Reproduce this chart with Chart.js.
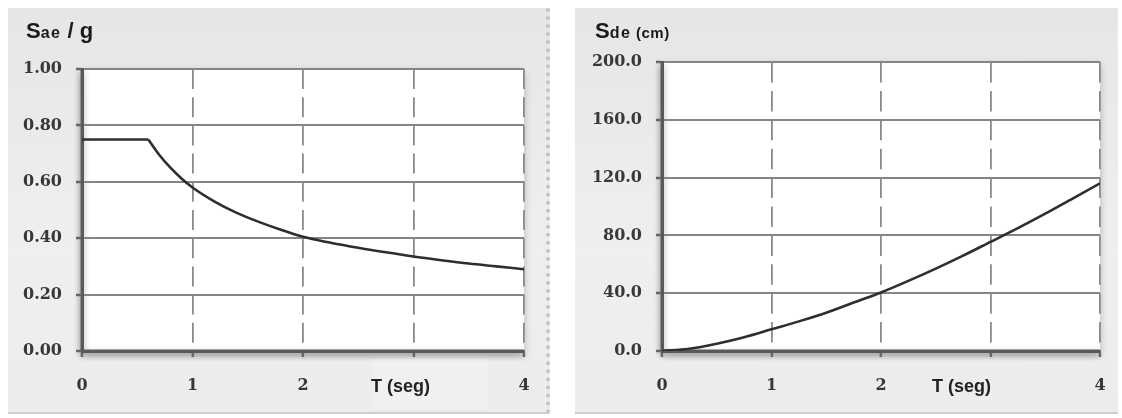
<!DOCTYPE html>
<html>
<head>
<meta charset="utf-8">
<script src="https://cdn.jsdelivr.net/npm/chart.js@4.4.1/dist/chart.umd.min.js"></script>
<style>
  html,body{margin:0;padding:0;background:#fff;width:1122px;height:418px;overflow:hidden;}
  .panel{position:absolute;top:8px;height:404px;background:linear-gradient(#e6e6e6,#efefef 60%,#ececec);}
  #p1{left:8px;width:538px;border-right:4px dotted #c4c4c4;border-bottom:2px solid #cfcfcf;}
  #p2{left:575px;width:543px;border-bottom:2px solid #cfcfcf;}
  canvas{position:absolute;left:0;top:0;}
  .title{position:absolute;font-family:"Liberation Sans",Arial,sans-serif;font-weight:bold;color:#1a1a1a;white-space:nowrap;line-height:1;}
  .big{font-size:22px;}
  .sub{font-size:16px;letter-spacing:1.5px;}
  .slash{font-size:22px;}
</style>
</head>
<body>
<div class="panel" id="p1"><canvas id="c1" width="538" height="404"></canvas>
  <div class="title" style="left:18px;top:12px;"><span class="big">S</span><span class="sub">ae</span><span class="slash"> / g</span></div>
</div>
<div class="panel" id="p2"><canvas id="c2" width="543" height="404"></canvas>
  <div class="title" style="left:20px;top:12px;"><span class="big">S</span><span class="sub">de</span><span class="sub" style="font-size:15px;letter-spacing:0.5px"> (cm)</span></div>
</div>
<script>
// ---- data ----
const periodsA = [0, 0.6, 0.7, 0.8, 0.9, 1.0, 1.2, 1.4, 1.6, 1.8, 2.0, 2.25, 2.5, 2.75, 3.0, 3.25, 3.5, 3.75, 4.0];
const saeValues = [0.75, 0.75, 0.695, 0.65, 0.612, 0.58, 0.53, 0.49, 0.458, 0.43, 0.405, 0.384, 0.366, 0.35, 0.335, 0.322, 0.31, 0.30, 0.29];
const plateauEndIndex = 1; // spectrum plateau ends at T = 0.6 s
const periodsB = [0, 0.25, 0.5, 0.75, 1.0, 1.25, 1.5, 1.75, 2.0, 2.25, 2.5, 2.75, 3.0, 3.25, 3.5, 3.75, 4.0];
const sdeValues = [0, 1.5, 5, 9.5, 15, 20.5, 26.5, 33.5, 40.5, 48.5, 57, 66, 75.5, 85, 95, 105.5, 116];
const xTickValues = [0, 1, 2, 3, 4];
const xAxisTitle = "T (seg)";
const yTicksA = [0, 0.2, 0.4, 0.6, 0.8, 1.0];
const yTicksB = [0, 40, 80, 120, 160, 200];

const tickFont = {family: "'DejaVu Serif', serif", weight: 'bold', size: 16};

const framePlugin = {
  id: 'frame',
  beforeDraw(chart) {
    const {ctx, chartArea: a} = chart;
    ctx.save();
    ctx.shadowColor = 'rgba(0,0,0,0.25)';
    ctx.shadowBlur = 8;
    ctx.shadowOffsetX = 0;
    ctx.shadowOffsetY = 3;
    ctx.fillStyle = '#ffffff';
    ctx.fillRect(a.left, a.top, a.right - a.left, a.bottom - a.top);
    ctx.shadowColor = 'rgba(0,0,0,0.4)';
    ctx.shadowBlur = 6;
    ctx.strokeStyle = '#666';
    ctx.lineWidth = 3;
    ctx.beginPath();
    ctx.moveTo(a.left, a.top);
    ctx.lineTo(a.left, a.bottom);
    ctx.lineTo(a.right, a.bottom);
    ctx.stroke();
    ctx.restore();
  },
  afterDraw(chart, args, opts) {
    const {ctx} = chart;
    const xs = chart.scales.x;
    const cx = xs.getPixelForValue(3) + opts.shift;
    const cy = xs.top + 36;
    ctx.save();
    if (opts.box) {
      ctx.fillStyle = 'rgba(255,255,255,0.22)';
      ctx.fillRect(cx - 28, xs.top + 8, 115, 50);
    }
    ctx.font = "bold 18px 'Liberation Sans', Arial, sans-serif";
    ctx.fillStyle = '#222';
    ctx.textAlign = 'center';
    ctx.textBaseline = 'middle';
    ctx.fillText(xAxisTitle, cx, cy);
    ctx.restore();
  }
};

function lineDataset(points) {
  return {
    data: points,
    borderColor: '#2e2e2e',
    borderWidth: 2.6,
    pointRadius: 0,
    cubicInterpolationMode: 'monotone',
    fill: false
  };
}

function makeChart(id, segments, yTicks, decimals, yWidth, pad, dash, shift, box) {
  const ymax = yTicks[yTicks.length - 1];
  return new Chart(document.getElementById(id), {
    type: 'line',
    data: {datasets: segments.map(lineDataset)},
    options: {
      responsive: false,
      animation: false,
      devicePixelRatio: 1,
      layout: {padding: {left: pad.left, top: pad.top, right: pad.right, bottom: 0}},
      plugins: {legend: {display: false}, tooltip: {enabled: false}, frame: {shift: shift, box: box}},
      scales: {
        x: {
          type: 'linear', min: 0, max: 4,
          afterBuildTicks: s => { s.ticks = xTickValues.map(v => ({value: v})); },
          afterFit: s => { s.height = 61; s.paddingLeft = 0; s.paddingRight = 0; },
          ticks: {
            font: tickFont, color: '#383838', padding: 19, maxRotation: 0,
            callback: v => (v === 3 ? '' : String(v))
          },
          grid: {color: '#8a8a8a', lineWidth: 1.8, tickLength: 6, tickColor: '#666', tickWidth: 2.5},
          border: {color: '#5a5a5a', width: 3, dash: dash}
        },
        y: {
          min: 0, max: ymax,
          afterBuildTicks: s => { s.ticks = yTicks.map(v => ({value: v})); },
          afterFit: s => { s.width = yWidth; },
          ticks: {
            font: tickFont, color: '#383838', padding: 14,
            callback: v => Number(v).toFixed(decimals)
          },
          grid: {color: '#858585', lineWidth: 2, tickLength: 6, tickColor: '#666', tickWidth: 2.5},
          border: {color: '#5a5a5a', width: 3}
        }
      }
    },
    plugins: [framePlugin]
  });
}

const pointsA = periodsA.map((x, i) => ({x: x, y: saeValues[i]}));
const pointsB = periodsB.map((x, i) => ({x: x, y: sdeValues[i]}));

makeChart('c1', [pointsA.slice(0, plateauEndIndex + 1), pointsA.slice(plateauEndIndex)],
  yTicksA, 2, 74, {left: 0, top: 61, right: 22}, [20, 8.2], -13, true);
makeChart('c2', [pointsB], yTicksB, 1, 87, {left: 0, top: 54, right: 18}, [20.5, 8.4], -29, false);
</script>
</body>
</html>
